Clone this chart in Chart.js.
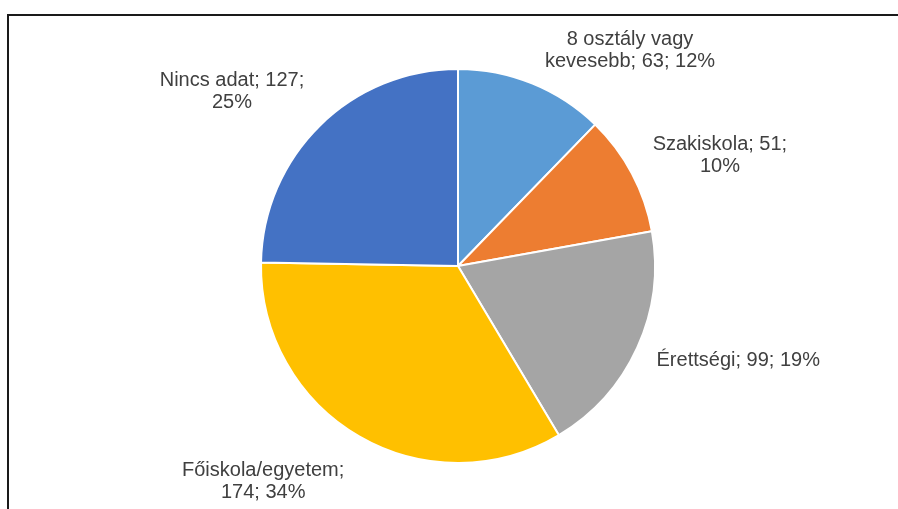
<!DOCTYPE html>
<html>
<head>
<meta charset="utf-8">
<script src="https://cdn.jsdelivr.net/npm/chart.js@4/dist/chart.umd.min.js"></script>
<style>
  html, body { margin: 0; padding: 0; background: #fff; overflow: hidden; }
  #wrap { position: relative; width: 898px; height: 509px; }
  #frame { position: absolute; left: 7px; top: 14px; width: 900px; height: 520px;
           border-left: 2px solid #1a1a1a; border-top: 2px solid #1a1a1a; }
  #chart { position: absolute; left: 0; top: 0; }
</style>
</head>
<body>
<div id="wrap">
  <div id="frame"></div>
  <canvas id="chart" width="898" height="509"></canvas>
</div>
<script>
  // kategóriák és értékek
  const categories = ['8 osztály vagy kevesebb', 'Szakiskola', 'Érettségi', 'Főiskola/egyetem', 'Nincs adat'];
  const values = [63, 51, 99, 174, 127];
  const percents = [12, 10, 19, 34, 25];
  const colors = ['#5B9BD5', '#ED7D31', '#A5A5A5', '#FFC000', '#4472C4'];

  // label placement relative to the arc's outer mid point, and wrap width
  const labelOffsets = [[98, -33], [88, -18], [101, 13], [-96, 45], [-88, -34]];
  const wrapWidths = [180, 145, 220, 180, 160];

  const wrap = (ctx, text, maxW) => {
      let words = text.split(' '), lines = [], cur = '';
      words.forEach(w => {
          let test = cur ? cur + ' ' + w : w;
          if (ctx.measureText(test).width > maxW && cur) {
              lines.push(cur);
              cur = w;
          } else
              cur = test;
      });
      if (cur) lines.push(cur);
      return lines;
  };

  const outerLabels = {
      id: 'outerLabels',
      afterDraw: (chart) => {
          const ctx = chart.ctx;
          const meta = chart.getDatasetMeta(0);
          ctx.save();
          ctx.font = "20px 'Liberation Sans', Arial, sans-serif";
          ctx.fillStyle = '#404040';
          ctx.textAlign = 'center';
          ctx.textBaseline = 'middle';
          const lineH = 22;
          meta.data.forEach((arc, i) => {
              const mid = (arc.startAngle + arc.endAngle) / 2;
              const ax = arc.x + Math.cos(mid) * arc.outerRadius;
              const ay = arc.y + Math.sin(mid) * arc.outerRadius;
              const cx = ax + labelOffsets[i][0];
              const cy = ay + labelOffsets[i][1];
              const text = `${categories[i]}; ${values[i]}; ${percents[i]}%`;
              const lines = wrap(ctx, text, wrapWidths[i]);
              const y0 = cy - (lines.length - 1) * lineH / 2;
              lines.forEach((l, k) => ctx.fillText(l, cx, y0 + k * lineH));
          });
          ctx.restore();
      }
  };

  new Chart(document.getElementById('chart'), {
      type: 'pie',
      data: {
          labels: categories,
          datasets: [{
              data: values,
              backgroundColor: colors,
              borderColor: '#ffffff',
              borderWidth: 2
          }]
      },
      plugins: [outerLabels],
      options: {
          responsive: false,
          animation: false,
          layout: {
              padding: { top: 68, bottom: 45, left: 18, right: 0 }
          },
          plugins: {
              legend: { display: false },
              title: { display: false },
              tooltip: { enabled: false }
          }
      }
  });
</script>
</body>
</html>
